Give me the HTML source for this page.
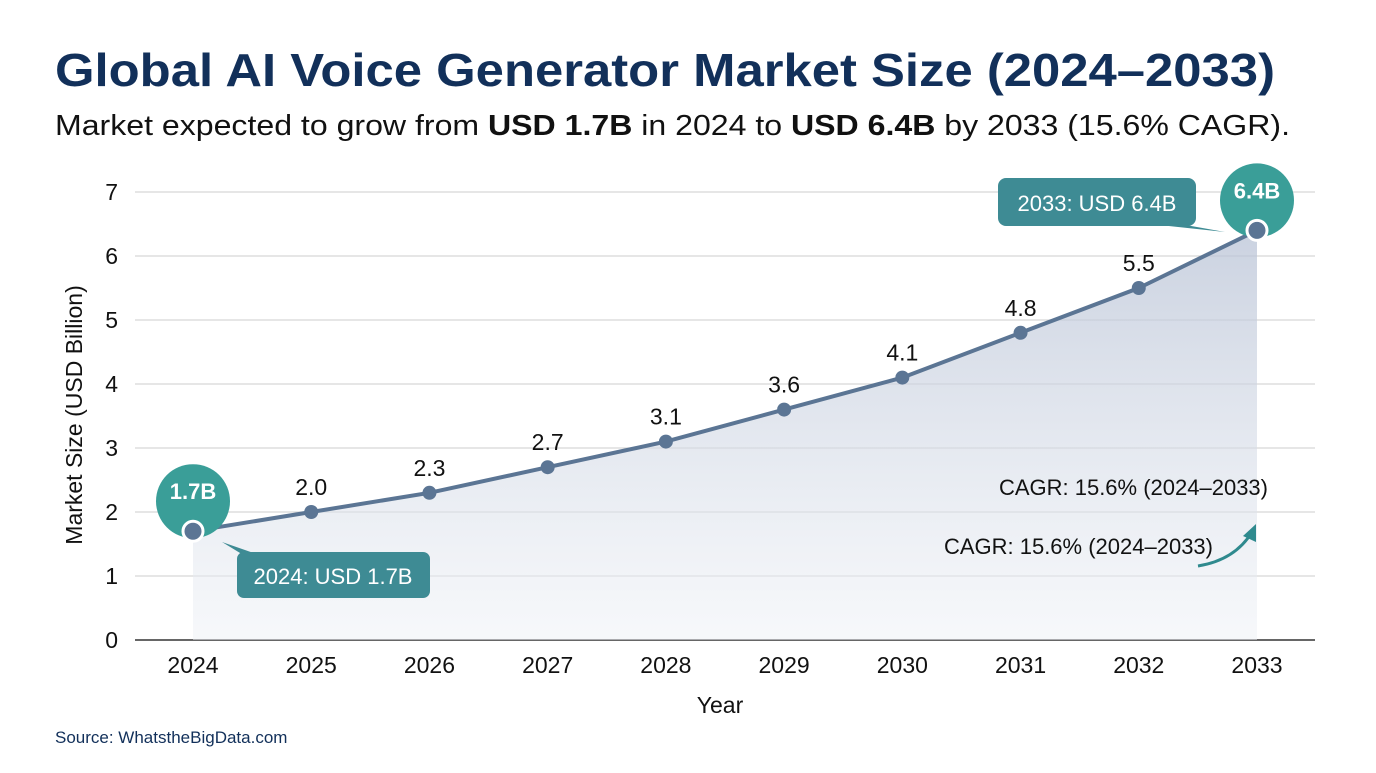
<!DOCTYPE html>
<html><head><meta charset="utf-8"><style>
body{margin:0;background:#fff;font-family:"Liberation Sans",sans-serif;}
svg text{font-family:"Liberation Sans",sans-serif;}
</style></head><body>
<svg id="chart" width="1376" height="768">
<defs>
<linearGradient id="area" x1="0" y1="0" x2="0" y2="1">
<stop offset="0" stop-color="#b9c3d6" stop-opacity="0.75"/>
<stop offset="1" stop-color="#eef1f6" stop-opacity="0.5"/>
</linearGradient>
</defs>
<text x="55" y="86" font-size="46" font-weight="bold" fill="#12305a" textLength="1220" lengthAdjust="spacingAndGlyphs">Global AI Voice Generator Market Size (2024–2033)</text>
<text x="55" y="135" font-size="29" fill="#111" textLength="1235" lengthAdjust="spacingAndGlyphs">Market expected to grow from <tspan font-weight="bold">USD 1.7B</tspan> in 2024 to <tspan font-weight="bold">USD 6.4B</tspan> by 2033 (15.6% CAGR).</text>
<g id="grid"></g>
<path id="areaPath" fill="url(#area)"/>
<path id="linePath" fill="none" stroke="#5b7594" stroke-width="4"/>
<g id="marks"></g>
<text x="82" y="415" font-size="23" fill="#111" text-anchor="middle" transform="rotate(-90 82 415)">Market Size (USD Billion)</text>
<text x="720" y="713" font-size="23" fill="#111" text-anchor="middle">Year</text>
<text x="55" y="743" font-size="17" fill="#12305a">Source: WhatstheBigData.com</text>
<text x="1268" y="495" font-size="22" fill="#111" text-anchor="end">CAGR: 15.6% (2024–2033)</text>
<text x="1213" y="554" font-size="22" fill="#111" text-anchor="end">CAGR: 15.6% (2024–2033)</text>
<path d="M1198 566 Q1235 560 1252 532" fill="none" stroke="#2f8a8e" stroke-width="3"/>
<polygon points="1256,524 1256,542 1243,536" fill="#2f8a8e"/>
<polygon points="222,542 262,556 245,556" fill="#3e8b94"/>
<rect x="237" y="552" width="193" height="46" rx="7" fill="#3e8b94"/>
<text x="333" y="584" font-size="22" fill="#fff" text-anchor="middle">2024: USD 1.7B</text>
<polygon points="1150,224 1225,232 1180,224" fill="#3e8b94"/>
<rect x="998" y="178" width="198" height="48" rx="8" fill="#3e8b94"/>
<text x="1097" y="211" font-size="22" fill="#fff" text-anchor="middle">2033: USD 6.4B</text>
</svg>
<script>
const years=[2024,2025,2026,2027,2028,2029,2030,2031,2032,2033];
const values=[1.7,2.0,2.3,2.7,3.1,3.6,4.1,4.8,5.5,6.4];
const valueLabels=["1.7B","2.0","2.3","2.7","3.1","3.6","4.1","4.8","5.5","6.4B"];
const yTicks=[0,1,2,3,4,5,6,7];
const NS="http://www.w3.org/2000/svg";
const x=i=>193+i*(1257-193)/9;
const y=v=>640-v*64;
function mk(tag,attrs,parent,txt){const e=document.createElementNS(NS,tag);for(const k in attrs)e.setAttribute(k,attrs[k]);if(txt!==undefined)e.textContent=txt;parent.appendChild(e);return e;}
const grid=document.getElementById('grid'),marks=document.getElementById('marks');
yTicks.forEach(t=>{
 const l=mk('line',{x1:135,x2:1315,y1:y(t),y2:y(t),stroke:t===0?'#333':'#d6d6d6','stroke-width':t===0?1.5:1.2},grid);
 
 
 const tx=mk('text',{x:118,y:y(t)+8,'font-size':23,'text-anchor':'end',fill:'#111'},grid,String(t));
 
 
});
years.forEach((yr,i)=>{
 const tx=mk('text',{x:x(i),y:673,'font-size':23,'text-anchor':'middle',fill:'#111'},grid,String(yr));
 
 
});
let d=values.map((v,i)=>(i?'L':'M')+x(i)+' '+y(v)).join(' ');
document.getElementById('linePath').setAttribute('d',d);
document.getElementById('areaPath').setAttribute('d',d+' L'+x(values.length-1)+' '+y(0)+' L'+x(0)+' '+y(0)+' Z');
const last=values.length-1;
values.forEach((v,i)=>{
 if(i===0||i===last){
  const cy=y(v)-30;
  const c=mk('circle',{cx:x(i),cy:cy,r:37,fill:'#3a9e98'},marks);
  
  
  const t=mk('text',{x:x(i),y:cy-2,'font-size':22,'font-weight':'bold','text-anchor':'middle',fill:'#fff'},marks,valueLabels[i]);
  
  
  const p=mk('circle',{cx:x(i),cy:y(v),r:10,fill:'#5b7594',stroke:'#fff','stroke-width':3},marks);
  
  
 } else {
  const p=mk('circle',{cx:x(i),cy:y(v),r:7,fill:'#5b7594'},marks);
  
  
  const t=mk('text',{x:x(i),y:y(v)-17,'font-size':23,'text-anchor':'middle',fill:'#111'},marks,valueLabels[i]);
  
  
 }
});
</script>
</body></html>
